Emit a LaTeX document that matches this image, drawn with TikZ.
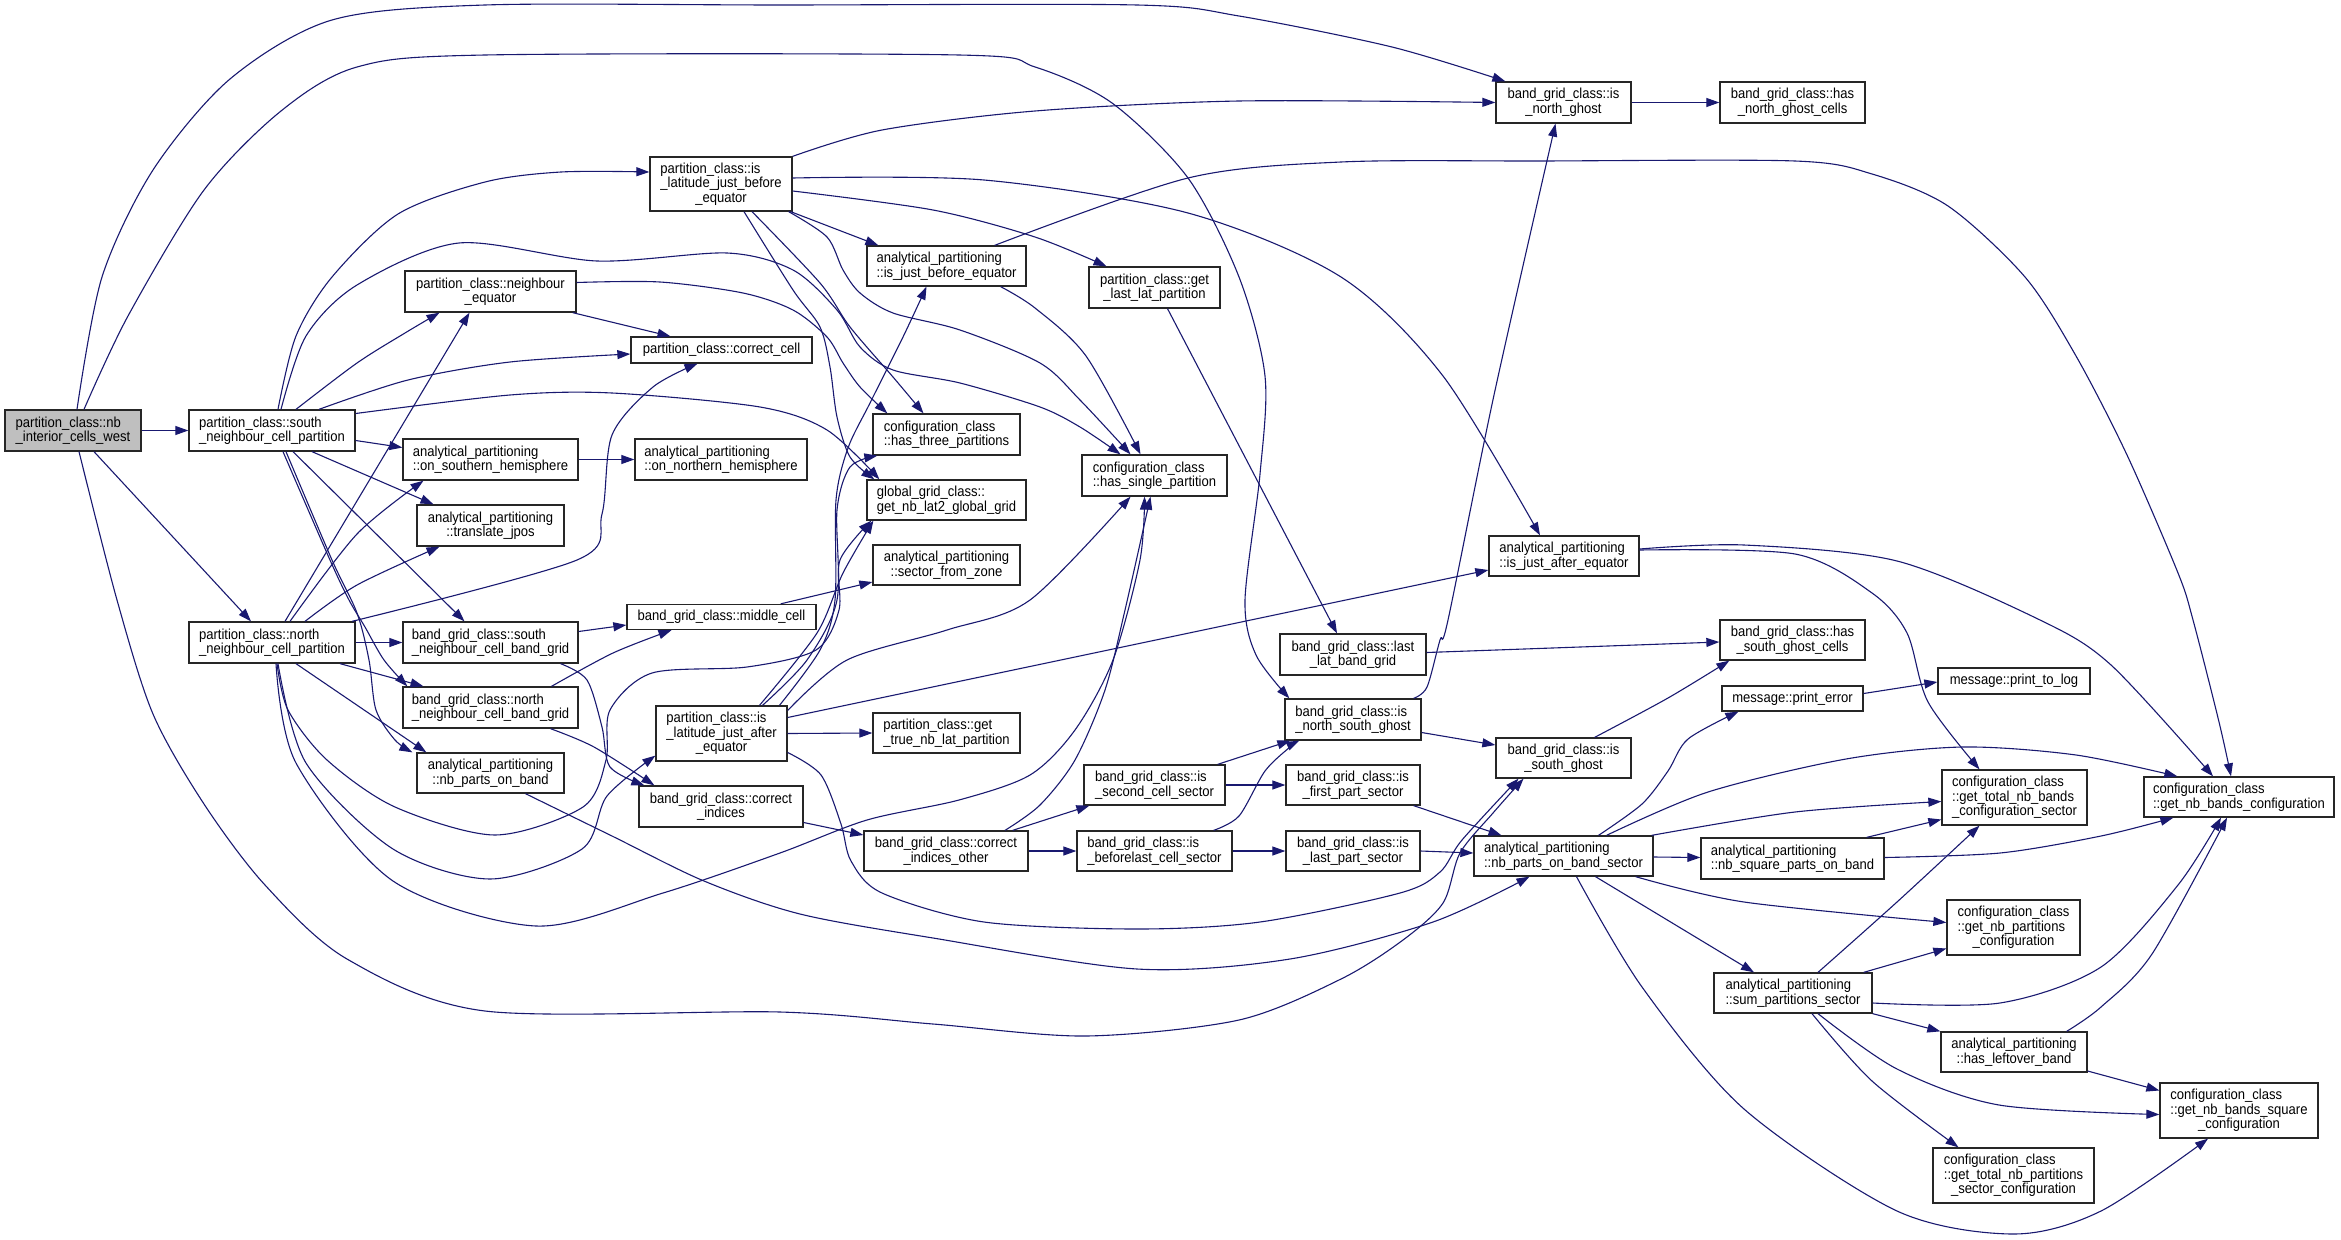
\documentclass[tikz,border=0pt]{standalone}
\usepackage{fontspec}
\setmainfont{Liberation Sans}[FakeStretch=0.9]
\usetikzlibrary{arrows.meta}
\definecolor{callblue}{HTML}{191970}
\definecolor{rootgray}{HTML}{BFBFBF}
\begin{document}
\begin{tikzpicture}[x=1pt, y=-1pt,
  fn/.style={draw=black!85, line width=1.3pt, fill=white, align=left, inner sep=0pt,
    minimum height=41, font=\fontsize{14.5}{14.5}\selectfont},
  root/.style={fn, fill=rootgray},
  call/.style={draw=callblue, line width=1.1pt, -{Triangle[length=13pt,width=9pt]}}]
\useasboundingbox (0,0) rectangle (2341,1239);

\node[root, minimum width=136] (nbwest) at (73,430.5) {partition\_class::nb\\\hfil\_interior\_cells\_west};
\node[fn, minimum width=166] (southpart) at (272,430.5) {partition\_class::south\\\hfil\_neighbour\_cell\_partition};
\node[fn, minimum width=166] (northpart) at (272,642.5) {partition\_class::north\\\hfil\_neighbour\_cell\_partition};
\node[fn, minimum width=142, minimum height=54] (latbefore) at (721,184) {partition\_class::is\\\_latitude\_just\_before\\\hfil\_equator};
\node[fn, minimum width=171] (neighequ) at (490.5,291.5) {partition\_class::neighbour\\\hfil\_equator};
\node[fn, minimum width=181, minimum height=26] (correctcell) at (721.5,350) {partition\_class::correct\_cell};
\node[fn, minimum width=175] (onsouth) at (490.5,459.5) {analytical\_partitioning\\\hfil::on\_southern\_hemisphere};
\node[fn, minimum width=172] (onnorth) at (721,459.5) {analytical\_partitioning\\\hfil::on\_northern\_hemisphere};
\node[fn, minimum width=147] (translate) at (490.5,525.5) {analytical\_partitioning\\\hfil::translate\_jpos};
\node[fn, minimum width=175] (southband) at (490.5,642.5) {band\_grid\_class::south\\\hfil\_neighbour\_cell\_band\_grid};
\node[fn, minimum width=175] (northband) at (490.5,707.5) {band\_grid\_class::north\\\hfil\_neighbour\_cell\_band\_grid};
\node[fn, minimum width=147, minimum height=40] (partsband) at (490.5,773) {analytical\_partitioning\\\hfil::nb\_parts\_on\_band};
\node[fn, minimum width=189, minimum height=25] (middlecell) at (721.5,617) {band\_grid\_class::middle\_cell};
\node[fn, minimum width=131, minimum height=55] (latafter) at (721.5,733.5) {partition\_class::is\\\_latitude\_just\_after\\\hfil\_equator};
\node[fn, minimum width=164] (corrind) at (721,806.5) {band\_grid\_class::correct\\\hfil\_indices};
\node[fn, minimum width=159, minimum height=40] (justbefore) at (946.5,266) {analytical\_partitioning\\\hfil::is\_just\_before\_equator};
\node[fn, minimum width=147] (hasthree) at (946.5,434.5) {configuration\_class\\\hfil::has\_three\_partitions};
\node[fn, minimum width=159, minimum height=40] (nblat) at (946.5,500) {global\_grid\_class::\\\hfil get\_nb\_lat2\_global\_grid};
\node[fn, minimum width=147, minimum height=40] (sectzone) at (946.5,565) {analytical\_partitioning\\\hfil::sector\_from\_zone};
\node[fn, minimum width=147, minimum height=40] (truenblat) at (946.5,733) {partition\_class::get\\\hfil\_true\_nb\_lat\_partition};
\node[fn, minimum width=164, minimum height=40] (corrother) at (946,851) {band\_grid\_class::correct\\\hfil\_indices\_other};
\node[fn, minimum width=131] (lastlat) at (1154.5,287.5) {partition\_class::get\\\hfil\_last\_lat\_partition};
\node[fn, minimum width=145] (hassingle) at (1154.5,475.5) {configuration\_class\\\hfil::has\_single\_partition};
\node[fn, minimum width=141, minimum height=40] (secondcell) at (1154.5,785) {band\_grid\_class::is\\\hfil\_second\_cell\_sector};
\node[fn, minimum width=155, minimum height=40] (beforelast) at (1154.5,851) {band\_grid\_class::is\\\hfil\_beforelast\_cell\_sector};
\node[fn, minimum width=135] (northghost) at (1563.5,102.5) {band\_grid\_class::is\\\hfil\_north\_ghost};
\node[fn, minimum width=145] (hasnorthcells) at (1792.5,102.5) {band\_grid\_class::has\\\hfil\_north\_ghost\_cells};
\node[fn, minimum width=146] (lastlatband) at (1353,654.5) {band\_grid\_class::last\\\hfil\_lat\_band\_grid};
\node[fn, minimum width=136] (nsghost) at (1353,719.5) {band\_grid\_class::is\\\hfil\_north\_south\_ghost};
\node[fn, minimum width=134, minimum height=40] (firstpart) at (1353,785) {band\_grid\_class::is\\\hfil\_first\_part\_sector};
\node[fn, minimum width=134, minimum height=40] (lastpart) at (1353,851) {band\_grid\_class::is\\\hfil\_last\_part\_sector};
\node[fn, minimum width=150, minimum height=40] (justafter) at (1564,556) {analytical\_partitioning\\\hfil::is\_just\_after\_equator};
\node[fn, minimum width=135, minimum height=40] (southghost) at (1563.5,758) {band\_grid\_class::is\\\hfil\_south\_ghost};
\node[fn, minimum width=179, minimum height=40] (partssector) at (1563.5,856) {analytical\_partitioning\\\hfil::nb\_parts\_on\_band\_sector};
\node[fn, minimum width=145, minimum height=40] (hassouthcells) at (1792.5,640) {band\_grid\_class::has\\\hfil\_south\_ghost\_cells};
\node[fn, minimum width=141, minimum height=25] (printerror) at (1792.5,698.5) {message::print\_error};
\node[fn, minimum width=183] (squareparts) at (1792.5,858.5) {analytical\_partitioning\\\hfil::nb\_square\_parts\_on\_band};
\node[fn, minimum width=158, minimum height=40] (sumparts) at (1793,993) {analytical\_partitioning\\\hfil::sum\_partitions\_sector};
\node[fn, minimum width=152, minimum height=26] (printlog) at (2014,681) {message::print\_to\_log};
\node[fn, minimum width=145, minimum height=55] (totalbands) at (2014.5,797.5) {configuration\_class\\::get\_total\_nb\_bands\\\hfil\_configuration\_sector};
\node[fn, minimum width=133, minimum height=55] (nbparts) at (2013.5,927.5) {configuration\_class\\::get\_nb\_partitions\\\hfil\_configuration};
\node[fn, minimum width=146, minimum height=40] (leftover) at (2014,1052) {analytical\_partitioning\\\hfil::has\_leftover\_band};
\node[fn, minimum width=161, minimum height=55] (totalparts) at (2013.5,1175.5) {configuration\_class\\::get\_total\_nb\_partitions\\\hfil\_sector\_configuration};
\node[fn, minimum width=190, minimum height=40] (nbbands) at (2239,797) {configuration\_class\\\hfil::get\_nb\_bands\_configuration};
\node[fn, minimum width=158, minimum height=55] (nbbandssq) at (2239,1110.5) {configuration\_class\\::get\_nb\_bands\_square\\\hfil\_configuration};

% partition_class::nb_interior_cells_west
\draw[call] (nbwest.east) -- (southpart.west);
\draw[call] ([xshift=21pt]nbwest.south) -- ([xshift=-21pt]northpart.north);
\draw[call] plot[smooth] coordinates {([xshift=4pt]nbwest.north) (102,277) (153,170) (230,79) (332,20) (485,5) (780,5) (1137,5) (1239,16) (1392,47) ([xshift=10pt]northghost.north west)};
\draw[call] plot[smooth] coordinates {([xshift=11pt]nbwest.north) (128,316) (204,190) (281,111) (357,67) (485,55) (959,55) (1035,67) (1112,103) (1188,178) (1239,277) (1265,376) (1260,474) (1245,600) (1256,655) ([xshift=5pt]nsghost.north west)};
\draw[call] plot[smooth] coordinates {([xshift=6pt]nbwest.south) (117,600) (153,714) (204,804) (265,885) (347,959) (485,1011) (780,1012) (933,1024) (1086,1036) (1239,1020) (1341,979) (1403,940) (1443,903) (1460,853) (1493,813) ([xshift=-40pt]southghost.south)};

% partition_class::south_neighbour_cell_partition
\draw[call] plot[smooth] coordinates {([xshift=6pt]southpart.north) (296,336) (332,277) (398,214) (485,182) (561,172) ([yshift=12pt]latbefore.west)};
\draw[call] plot[smooth] coordinates {([xshift=9pt]southpart.north) (306,336) (357,285) (459,243) (597,261) (727,253) (793,270) (837,310) (860,347) (893,370) (960,383) (1040,407) (1080,427) ([xshift=-34pt]hassingle.north)};
\draw[call] plot[smooth] coordinates {([xshift=24pt]southpart.north) (357,363) (405,333) ([xshift=-51pt]neighequ.south)};
\draw[call] plot[smooth] coordinates {([xshift=47pt]southpart.north) (408,380) (510,362) ([yshift=-4pt]correctcell.west)};
\draw[call] plot[smooth] coordinates {([yshift=17pt]southpart.east) (510,395) (612,393) (760,407) (827,430) ([xshift=13pt]nblat.north west)};
\draw[call] ([yshift=-10pt]southpart.east) -- ([yshift=12pt]onsouth.west);
\draw[call] ([xshift=40pt]southpart.south) -- ([xshift=-57pt]translate.north);
\draw[call] ([xshift=21pt]southpart.south) -- ([xshift=-26pt]southband.north);
\draw[call] plot[smooth] coordinates {([xshift=11pt]southpart.south) (330,560) (349,600) (365,627) (384,660) ([xshift=5pt]northband.north west)};
\draw[call] plot[smooth] coordinates {([xshift=14pt]southpart.south) (332,560) (357,613) (369,660) (376,710) (395,740) ([xshift=-4pt]partsband.north west)};

% partition_class::north_neighbour_cell_partition
\draw[call] ([xshift=13pt]northpart.north) -- ([xshift=-21pt]neighequ.south);
\draw[call] plot[smooth] coordinates {([xshift=18pt]northpart.north) (357,534) ([xshift=-67pt]onsouth.south)};
\draw[call] plot[smooth] coordinates {([xshift=33pt]northpart.north) (357,585) ([xshift=-51pt]translate.south)};
\draw[call] plot[smooth] coordinates {([xshift=80pt]northpart.north) (577,560) (602,514) (612,435) (653,387) ([xshift=-24pt]correctcell.south)};
\draw[call] (northpart.east) -- (southband.west);
\draw[call] ([xshift=68pt]northpart.south) -- ([xshift=-67pt]northband.north);
\draw[call] ([xshift=24pt]northpart.south) -- ([xshift=10pt]partsband.north west);
\draw[call] plot[smooth] coordinates {([xshift=5pt]northpart.south) (288,710) (327,760) (395,807) (495,835) (583,807) (606,760) (610,710) (652,673) (747,667) (816,650) (839,610) (840,560) ([xshift=5pt]nblat.south west)};
\draw[call] plot[smooth] coordinates {([xshift=6pt]northpart.south) (306,763) (393,849) (490,879) (582,849) (607,796) ([yshift=6pt]latafter.south west)};
\draw[call] plot[smooth] coordinates {([xshift=4pt]northpart.south) (296,763) (393,881) (536,926) (663,893) (780,853) (867,820) (959,800) (1030,775) (1075,730) (1113,660) (1140,560) ([xshift=-10pt]hassingle.south)};

% partition_class::is_latitude_just_after_equator
\draw[call] plot[smooth] coordinates {([xshift=58pt]latafter.north) (820,650) (835,600) (836,500) (848,448) (870,403) (903,337) ([xshift=-20pt]justbefore.south)};
\draw[call] plot[smooth] coordinates {([xshift=41pt]latafter.north) (807,660) (837,600) (837,510) (850,467) ([xshift=5pt]hasthree.south west)};
\draw[call] plot[smooth] coordinates {([xshift=38pt]latafter.north) (817,633) (843,573) ([xshift=7pt]nblat.south west)};
\draw[call] plot[smooth] coordinates {([yshift=23pt]latafter.east) (847,660) (947,630) (1030,600) ([xshift=-24pt]hassingle.south)};
\draw[call] ([yshift=16pt]latafter.east) -- ([yshift=-14pt]justafter.west);
\draw[call] (latafter.east) -- (truenblat.west);
\draw[call] plot[smooth] coordinates {([yshift=-19pt]latafter.east) (821,775) (841,824) (851,861) (882,893) (984,922) (1137,929) (1260,922) (1400,893) (1440,872) (1462,840) ([xshift=-45pt]southghost.south)};

% partition_class::is_latitude_just_before_equator
\draw[call] plot[smooth] coordinates {(latbefore.north east) (882,130) (1035,111) (1239,101) (northghost.west)};
\draw[call] plot[smooth] coordinates {([yshift=6pt]latbefore.east) (984,180) (1188,213) (1341,277) (1443,376) ([xshift=-24pt]justafter.north)};
\draw[call] plot[smooth] coordinates {([yshift=-7pt]latbefore.east) (933,210) (1035,237) ([xshift=-48pt]lastlat.north)};
\draw[call] ([xshift=-2pt]latbefore.south east) -- ([xshift=12pt]justbefore.north west);
\draw[call] plot[smooth] coordinates {([xshift=31pt]latbefore.south) (820,283) (850,327) (893,377) ([xshift=-23pt]hasthree.north)};
\draw[call] plot[smooth] coordinates {([xshift=23pt]latbefore.south) (793,290) (820,327) (830,367) (837,417) (850,457) ([xshift=8pt]nblat.north west)};
\draw[call] plot[smooth] coordinates {([xshift=-4pt]latbefore.south east) (827,237) (843,270) (860,293) (893,313) (960,330) (1040,363) (1080,400) ([xshift=-24pt]hassingle.north)};

% analytical_partitioning::is_just_before_equator
\draw[call] plot[smooth] coordinates {([xshift=-26pt]justbefore.south east) (1035,308) (1086,356) ([xshift=-14pt]hassingle.north)};
\draw[call] plot[smooth] coordinates {([xshift=-32pt]justbefore.north east) (1188,178) (1341,162) (1540,161) (1795,161) (1872,174) (1948,206) (2025,277) (2076,356) (2127,455) (2178,573) (2193,620) (2219,722) ([xshift=-8pt]nbbands.north)};

% neighbour_equator, band grid helpers
\draw[call] ([xshift=-4pt]neighequ.south east) -- ([xshift=-51pt]correctcell.north);
\draw[call] plot[smooth] coordinates {([yshift=9pt]neighequ.east) (660,282) (743,293) (793,310) (827,337) (843,363) (860,387) ([xshift=15pt]hasthree.north west)};
\draw[call] (onsouth.east) -- (onnorth.west);
\draw[call] ([yshift=11pt]southband.east) -- ([yshift=-8pt]middlecell.west);
\draw[call] plot[smooth] coordinates {([xshift=61pt]northband.north) (613,653) ([xshift=-50pt]middlecell.south)};
\draw[call] plot[smooth] coordinates {([xshift=70pt]southband.south) (587,680) (602,727) (610,767) ([xshift=6pt]corrind.north west)};
\draw[call] plot[smooth] coordinates {([xshift=60pt]northband.south) (594,747) ([xshift=16pt]corrind.north west)};
\draw[call] ([xshift=-36pt]middlecell.north east) -- ([yshift=-17pt]sectzone.west);
\draw[call] plot[smooth] coordinates {([xshift=35pt]partsband.south) (612,836) (704,881) (800,914) (933,938) (1137,969) (1290,959) (1433,922) ([xshift=-34pt]partssector.south)};
\draw[call] ([yshift=-16pt]corrind.east) -- ([yshift=16pt]corrother.west);
\draw[call] ([xshift=-16pt]corrother.north east) -- ([xshift=6pt]secondcell.south west);
\draw[call] (corrother.east) -- (beforelast.west);
\draw[call] plot[smooth] coordinates {([xshift=59pt]corrother.north) (1040,805) (1075,760) (1105,690) (1125,610) ([xshift=-4pt]hassingle.south)};
\draw[call] ([xshift=13pt]lastlat.south) -- ([xshift=-16pt]lastlatband.north);
\draw[call] ([yshift=2pt]lastlatband.east) -- ([yshift=-2pt]hassouthcells.west);
\draw[call] ([xshift=-8pt]secondcell.north east) -- ([xshift=6pt]nsghost.south west);
\draw[call] (secondcell.east) -- (firstpart.west);
\draw[call] plot[smooth] coordinates {([xshift=-19pt]beforelast.north east) (1239,816) (1265,771) (1290,747) ([xshift=15pt]nsghost.south west)};
\draw[call] (beforelast.east) -- (lastpart.west);
\draw[call] ([xshift=-7pt]firstpart.south east) -- ([xshift=-62pt]partssector.north);
\draw[call] (lastpart.east) -- ([yshift=3pt]partssector.west);
\draw[call] plot[smooth] coordinates {([xshift=-8pt]nsghost.north east) (1427,687) (1440,640) (1448,620) (1494,395) ([xshift=-8pt]northghost.south)};
\draw[call] ([yshift=-13pt]nsghost.east) -- ([yshift=13pt]southghost.west);
\draw[call] plot[smooth] coordinates {([xshift=-37pt]southghost.north east) (1668,698) ([xshift=10pt]hassouthcells.south west)};
\draw[call] (northghost.east) -- (hasnorthcells.west);
\draw[call] ([yshift=5pt]printerror.east) -- ([yshift=-1pt]printlog.west);

% analytical_partitioning::nb_parts_on_band_sector
\draw[call] plot[smooth] coordinates {([xshift=35pt]partssector.north) (1642,804) (1668,771) (1688,739) ([xshift=17pt]printerror.south west)};
\draw[call] plot[smooth] coordinates {([xshift=43pt]partssector.north) (1708,792) (1846,759) (1963,747) (2076,755) ([xshift=34pt]nbbands.north west)};
\draw[call] plot[smooth] coordinates {([xshift=-2pt]partssector.north east) (1795,812) ([yshift=-4pt]totalbands.west)};
\draw[call] ([yshift=-1pt]partssector.east) -- ([yshift=1pt]squareparts.west);
\draw[call] plot[smooth] coordinates {([xshift=-18pt]partssector.south east) (1744,902) ([yshift=5pt]nbparts.west)};
\draw[call] ([xshift=32pt]partssector.south) -- ([xshift=-39pt]sumparts.north);
\draw[call] plot[smooth] coordinates {([xshift=13pt]partssector.south) (1642,987) (1744,1109) (1897,1211) (2014,1234) (2101,1211) ([xshift=-31pt]nbbandssq.south)};
\draw[call] ([xshift=-18pt]squareparts.north east) -- ([yshift=-22pt]totalbands.west);
\draw[call] plot[smooth] coordinates {([yshift=1pt]squareparts.east) (2000,853) (2101,836) ([xshift=30pt]nbbands.south west)};

% analytical_partitioning::sum_partitions_sector
\draw[call] plot[smooth] coordinates {([xshift=25pt]sumparts.north) (1897,902) ([xshift=-35pt]totalbands.south)};
\draw[call] ([xshift=-9pt]sumparts.north east) -- ([yshift=-21pt]nbparts.west);
\draw[call] plot[smooth] coordinates {([yshift=-10pt]sumparts.east) (2000,1003) (2101,967) (2178,885) ([xshift=-18pt]nbbands.south)};
\draw[call] (sumparts.south east) -- (leftover.north west);
\draw[call] plot[smooth] coordinates {([xshift=25pt]sumparts.south) (1897,1069) (1999,1105) ([yshift=-4pt]nbbandssq.west)};
\draw[call] plot[smooth] coordinates {([xshift=19pt]sumparts.south) (1872,1081) ([xshift=-55pt]totalparts.north)};
\draw[call] plot[smooth] coordinates {([xshift=-21pt]leftover.north east) (2101,1007) (2152,954) ([xshift=-12pt]nbbands.south)};
\draw[call] ([yshift=-19pt]leftover.east) -- ([yshift=20pt]nbbandssq.west);

% analytical_partitioning::is_just_after_equator
\draw[call] plot[smooth] coordinates {([yshift=7pt]justafter.east) (1744,545) (1897,561) (2040,620) (2111,665) ([xshift=-26pt]nbbands.north)};
\draw[call] plot[smooth] coordinates {([yshift=6pt]justafter.east) (1795,554) (1872,593) (1907,633) (1928,702) ([xshift=-35pt]totalbands.north)};
\end{tikzpicture}
\end{document}
